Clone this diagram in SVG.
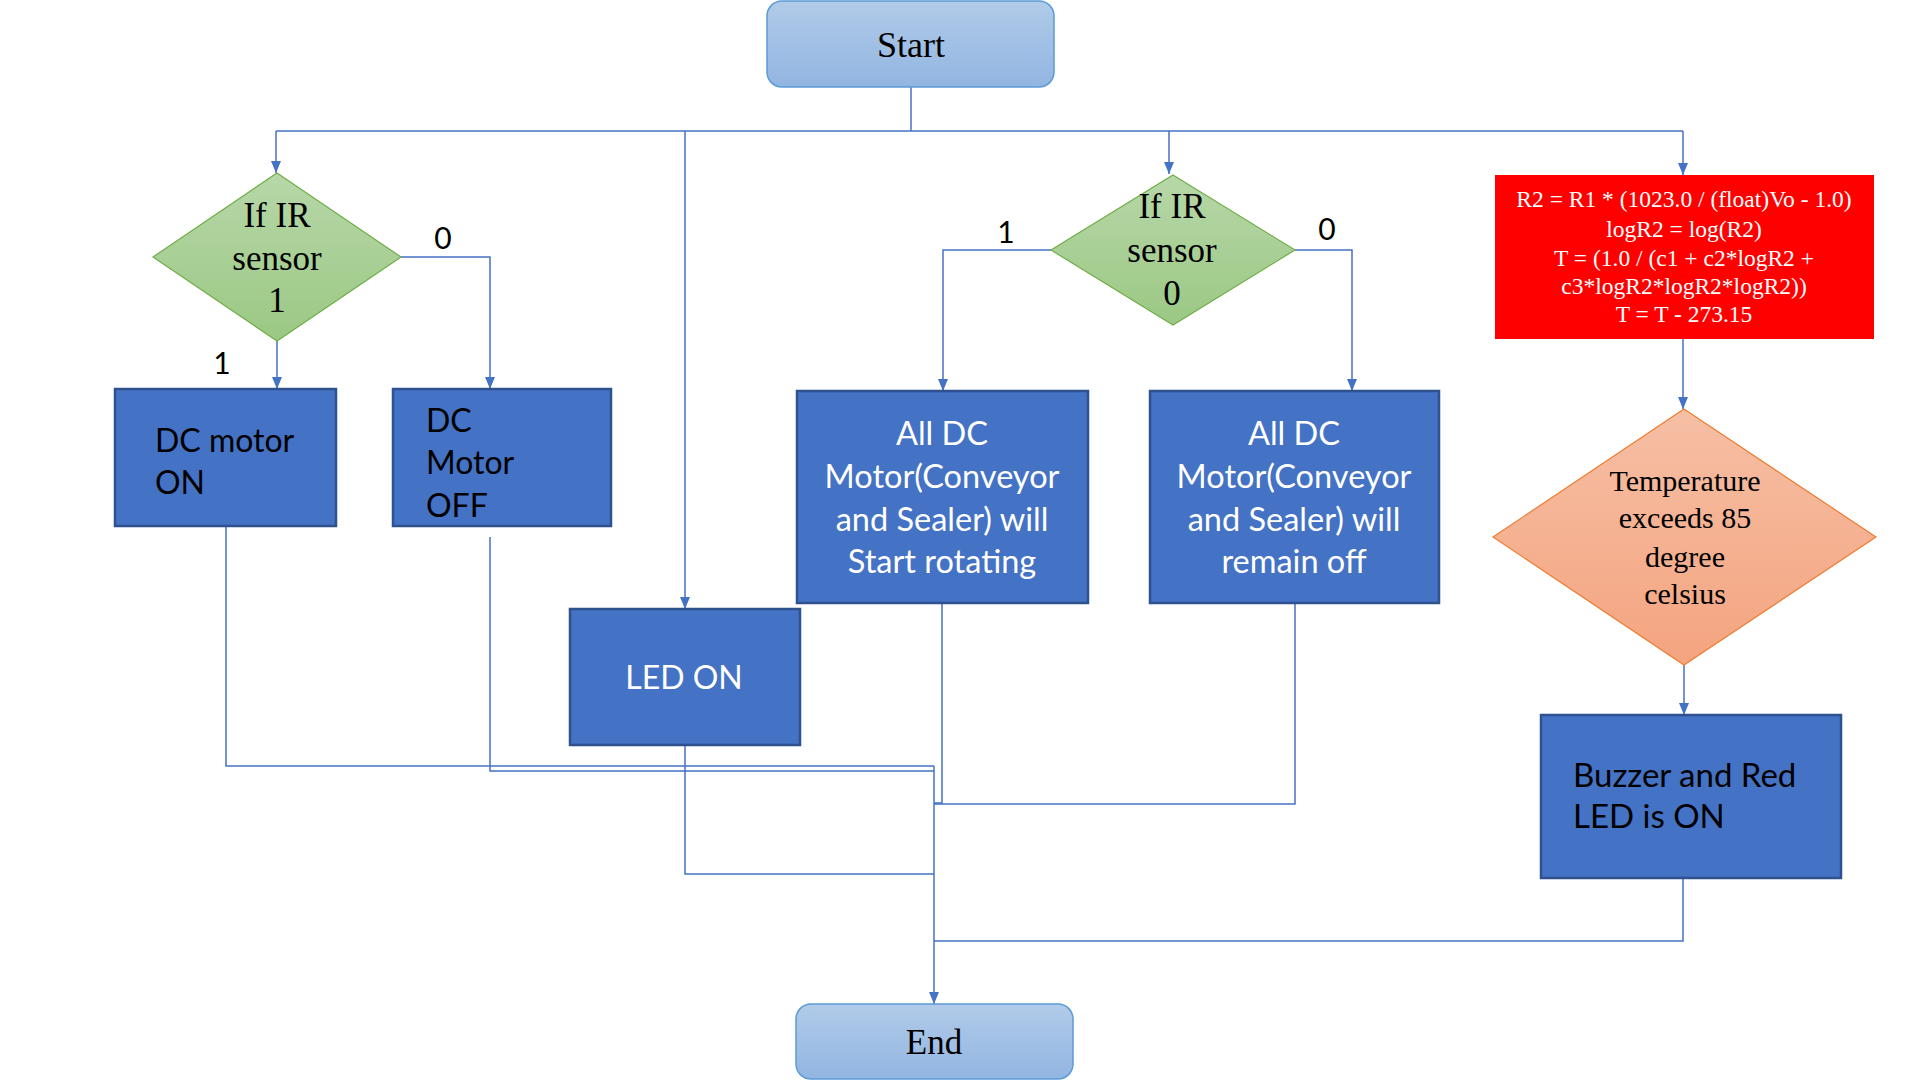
<svg xmlns="http://www.w3.org/2000/svg" width="1920" height="1080" viewBox="0 0 1920 1080">
<style>
.term{stroke:#5b9bd5;stroke-width:1.5}
.proc{fill:#4472c4;stroke:#2f528f;stroke-width:2.5}
.dec{stroke:#70ad47;stroke-width:1.2}
.ser{font-family:"Liberation Serif","Times New Roman",serif;fill:#000}
.san{font-family:Lato,"Liberation Sans",sans-serif}
.wh{fill:#fff}
.bk{fill:#000}
.c{text-anchor:middle}
.con{fill:none;stroke:#4472c4;stroke-width:1.5}
</style>
<defs>
<linearGradient id="gBlue" x1="0" y1="0" x2="0" y2="1"><stop offset="0" stop-color="#b1cbe9"/><stop offset="1" stop-color="#92b5e1"/></linearGradient>
<linearGradient id="gGreen" x1="0" y1="0" x2="0" y2="1"><stop offset="0" stop-color="#b7d7a8"/><stop offset="1" stop-color="#9bc884"/></linearGradient>
<linearGradient id="gOrange" x1="0" y1="0" x2="0" y2="1"><stop offset="0" stop-color="#f6bfa5"/><stop offset="1" stop-color="#f4a47f"/></linearGradient>
<marker id="arr" viewBox="0 0 12 10" refX="12" refY="5" markerWidth="12" markerHeight="10" orient="auto" markerUnits="userSpaceOnUse"><path d="M0,0 L12,5 L0,10 z" fill="#4472c4"/></marker>
</defs>
<rect width="1920" height="1080" fill="#fff"/>

<g id="connectors">
<path class="con" d="M911,87 V131"/>
<path class="con" d="M276,131 H1683"/>
<path class="con" d="M276,131 V173" marker-end="url(#arr)"/>
<path class="con" d="M685,131 V609" marker-end="url(#arr)"/>
<path class="con" d="M1169,131 V174" marker-end="url(#arr)"/>
<path class="con" d="M1683,131 V175" marker-end="url(#arr)"/>
<path class="con" d="M277,341 V389" marker-end="url(#arr)"/>
<path class="con" d="M401,257 H490 V389" marker-end="url(#arr)"/>
<path class="con" d="M1051,250 H943 V391" marker-end="url(#arr)"/>
<path class="con" d="M1295,250 H1352 V391" marker-end="url(#arr)"/>
<path class="con" d="M1683,339 V409" marker-end="url(#arr)"/>
<path class="con" d="M1684,665 V715" marker-end="url(#arr)"/>
<path class="con" d="M226,526 V766 H934"/>
<path class="con" d="M490,537 V771 H934"/>
<path class="con" d="M685,745 V874 H934"/>
<path class="con" d="M942,603 V803 H934"/>
<path class="con" d="M1295,603 V804 H934"/>
<path class="con" d="M1683,878 V941 H934"/>
<path class="con" d="M934,766 V1004" marker-end="url(#arr)"/>
<text class="san bk c" x="443" y="249" font-size="30">0</text>
<text class="san bk c" x="222" y="374" font-size="30">1</text>
<text class="san bk c" x="1006" y="243" font-size="30">1</text>
<text class="san bk c" x="1327" y="240" font-size="30">0</text>
</g>

<g id="start">
<rect class="term" x="767" y="1" width="287" height="86" rx="15" fill="url(#gBlue)"/>
<text class="ser c" x="911" y="57" font-size="36">Start</text>
</g>

<g id="ir1">
<polygon class="dec" points="277,173 401,257 277,341 153,257" fill="url(#gGreen)"/>
<text class="ser c" x="277" y="227" font-size="35">If IR</text>
<text class="ser c" x="277" y="270" font-size="35">sensor</text>
<text class="ser c" x="277" y="312" font-size="35">1</text>
</g>

<g id="dcon">
<rect class="proc" x="115" y="389" width="221" height="137"/>
<text class="san bk" x="155" y="452" font-size="32">DC motor</text>
<text class="san bk" x="155" y="494" font-size="32">ON</text>
</g>

<g id="dcoff">
<rect class="proc" x="393" y="389" width="218" height="137"/>
<text class="san bk" x="426" y="432" font-size="32">DC</text>
<text class="san bk" x="426" y="474" font-size="32">Motor</text>
<text class="san bk" x="426" y="517" font-size="32">OFF</text>
</g>

<g id="ledon">
<rect class="proc" x="570" y="609" width="230" height="136"/>
<text class="san wh c" x="684" y="689" font-size="32">LED ON</text>
</g>

<g id="ir0">
<polygon class="dec" points="1173,175 1295,250 1173,325 1051,250" fill="url(#gGreen)"/>
<text class="ser c" x="1172" y="218" font-size="35">If IR</text>
<text class="ser c" x="1172" y="262" font-size="35">sensor</text>
<text class="ser c" x="1172" y="305" font-size="35">0</text>
</g>

<g id="rotate">
<rect class="proc" x="797" y="391" width="291" height="212"/>
<text class="san wh c" x="942" y="445" font-size="32.5">All DC</text>
<text class="san wh c" x="942" y="488" font-size="32.5">Motor(Conveyor</text>
<text class="san wh c" x="942" y="531" font-size="32.5">and Sealer) will</text>
<text class="san wh c" x="942" y="573" font-size="32.5">Start rotating</text>
</g>

<g id="remainoff">
<rect class="proc" x="1150" y="391" width="289" height="212"/>
<text class="san wh c" x="1294" y="445" font-size="32.5">All DC</text>
<text class="san wh c" x="1294" y="488" font-size="32.5">Motor(Conveyor</text>
<text class="san wh c" x="1294" y="531" font-size="32.5">and Sealer) will</text>
<text class="san wh c" x="1294" y="573" font-size="32.5">remain off</text>
</g>

<g id="formula">
<rect x="1495" y="175" width="379" height="164" fill="#ff0000"/>
<text class="ser wh c" x="1684" y="207" font-size="23.5" fill="#fff">R2 = R1 * (1023.0 / (float)Vo - 1.0)</text>
<text class="ser wh c" x="1684" y="237" font-size="23.5" fill="#fff">logR2 = log(R2)</text>
<text class="ser wh c" x="1684" y="266" font-size="23.5" fill="#fff">T = (1.0 / (c1 + c2*logR2 +</text>
<text class="ser wh c" x="1684" y="294" font-size="23.5" fill="#fff">c3*logR2*logR2*logR2))</text>
<text class="ser wh c" x="1684" y="322" font-size="23.5" fill="#fff">T = T - 273.15</text>
</g>

<g id="temp">
<polygon points="1684,409 1876,537 1684,665 1493,537" fill="url(#gOrange)" stroke="#ed7d31" stroke-width="1.2"/>
<text class="ser c" x="1685" y="491" font-size="30">Temperature</text>
<text class="ser c" x="1685" y="528" font-size="30">exceeds 85</text>
<text class="ser c" x="1685" y="567" font-size="30">degree</text>
<text class="ser c" x="1685" y="604" font-size="30">celsius</text>
</g>

<g id="buzzer">
<rect class="proc" x="1541" y="715" width="300" height="163"/>
<text class="san bk" x="1573" y="787" font-size="33">Buzzer and Red</text>
<text class="san bk" x="1573" y="828" font-size="33">LED is ON</text>
</g>

<g id="end">
<rect class="term" x="796" y="1004" width="277" height="75" rx="15" fill="url(#gBlue)"/>
<text class="ser c" x="934" y="1054" font-size="35">End</text>
</g>
</svg>
